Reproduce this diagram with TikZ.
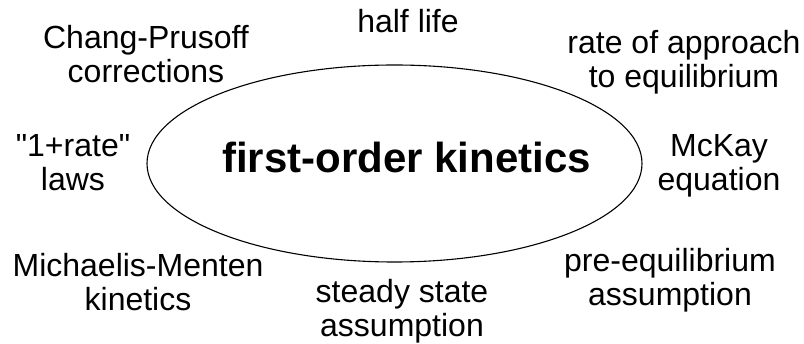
\documentclass[tikz,border=0pt]{standalone}
\usepackage{fontspec}
\setmainfont{Liberation Sans}
\newfontfamily\plainsans{Liberation Sans}
\usetikzlibrary{shapes.geometric}
\begin{document}
\begin{tikzpicture}[x=1pt,y=-1pt,
  lbl/.style={align=center, anchor=base, inner sep=0pt, font=\plainsans\fontsize{32}{34}\selectfont},
  titletext/.style={anchor=base, inner sep=0pt, font=\fontsize{42}{46}\selectfont\bfseries},
  oval/.style={draw, ellipse, line width=1.1pt, minimum width=495pt, minimum height=197pt, inner sep=0pt}]
\useasboundingbox (0,0) rectangle (804,344);
\node[oval] (core) at (394.5,163.5) {};
\node[titletext] (title) at (406.7,173) {first-order kinetics};
\node[lbl] (half) at (408,33) {half life};
\node[lbl] (chang) at (146,83) {Chang-Prusoff\\corrections};
\node[lbl] (rate) at (684,88) {rate of approach\\to equilibrium};
\node[lbl] (onerate) at (73,191) {"1+rate"\\laws};
\node[lbl] (mckay) at (719,191) {McKay\\equation};
\node[lbl] (mm) at (138,311) {Michaelis-Menten\\kinetics};
\node[lbl] (pre) at (670,306) {pre-equilibrium\\assumption};
\node[lbl] (steady) at (402,337) {steady state\\assumption};
\end{tikzpicture}
\end{document}
